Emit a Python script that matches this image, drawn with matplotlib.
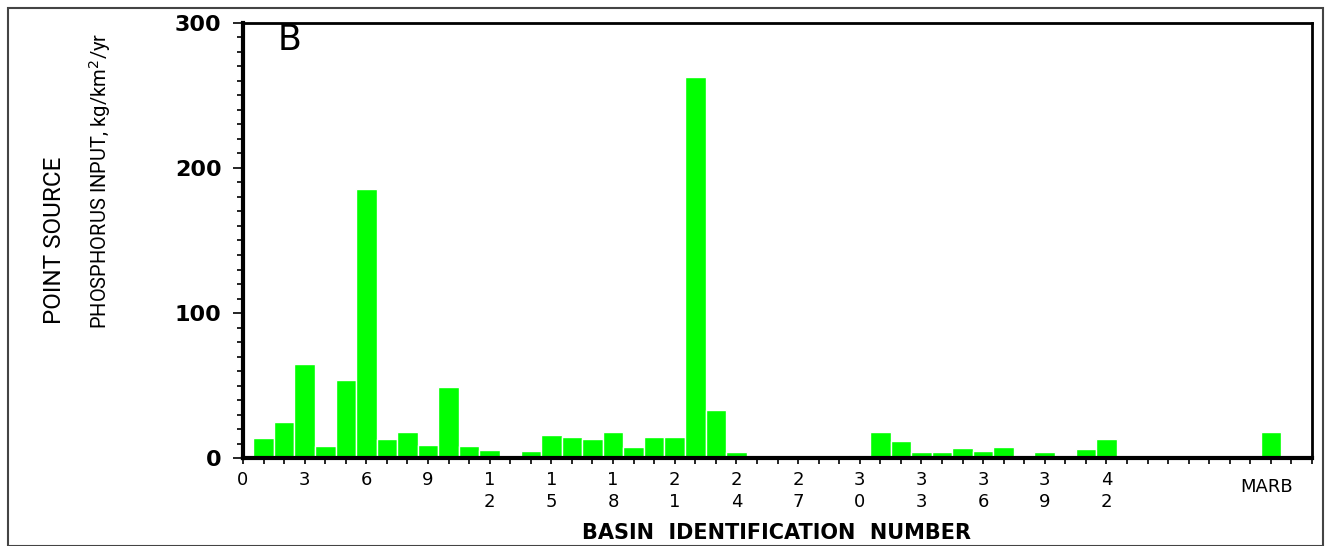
import matplotlib
matplotlib.use("Agg")
import matplotlib.pyplot as plt
from matplotlib.patches import Rectangle
from matplotlib.ticker import MultipleLocator, FixedLocator

# Data
basins = list(range(1, 43))
values = [14.1, 24.5, 65.0, 8.6, 54.1, 185.5, 12.8, 17.6, 9.3, 49.3,
          8.6, 5.2, 1.0, 4.5, 16.2, 14.8, 12.8, 17.6, 7.9, 14.8,
          14.8, 262.5, 32.8, 3.8, 0.0, 0.0, 1.0, 1.0, 1.0, 2.4,
          18.0, 11.4, 3.8, 3.8, 6.6, 4.5, 7.9, 1.7, 3.8, 1.7,
          5.9, 12.8]
marb_value = 18.0
marb_pos = 50
xtick_pos = list(range(0, 43, 3))
xtick_labels = ["\n".join(str(v)) for v in xtick_pos]
ytick_pos = [0, 100, 200, 300]

plt.rcParams['font.family'] = ['DejaVu Sans']

fig = plt.figure(figsize=(13.3, 5.46), dpi=100)
ax = fig.add_axes([243/1330, (546-458)/546, 1069/1330, 435/546])

green = '#00ff00'
ax.bar(basins, values, width=1.0, color=green, edgecolor='white', linewidth=1.0)
ax.bar([marb_pos], [marb_value], width=1.0, color=green, edgecolor='white', linewidth=1.0)

ax.set_xlim(0, 52)
ax.set_ylim(0, 300)

ax.xaxis.set_major_locator(FixedLocator(xtick_pos))
ax.xaxis.set_minor_locator(MultipleLocator(1))
ax.set_xticklabels(xtick_labels, fontsize=13, va='top', linespacing=1.3)
ax.yaxis.set_major_locator(FixedLocator(ytick_pos))
ax.yaxis.set_minor_locator(MultipleLocator(10))
ax.set_yticklabels([str(v) for v in ytick_pos], fontsize=16, fontweight='bold')

ax.tick_params(axis='x', which='both', direction='out', length=4.5, width=1.2, pad=5)
ax.tick_params(axis='y', which='major', direction='out', length=7.5, width=1.2, pad=8)
ax.tick_params(axis='y', which='minor', direction='out', length=4, width=1.2)

for s in ['left', 'bottom']:
    ax.spines[s].set_linewidth(3)
for s in ['top', 'right']:
    ax.spines[s].set_linewidth(2)

ax.text(marb_pos - 0.2, -20, "MARB", ha='center', va='center', fontsize=13)
ax.text(0.032, 0.96, "B", transform=ax.transAxes, ha='left', va='center', fontsize=25)

fig.text(777/1330, 1 - 533/546, "BASIN  IDENTIFICATION  NUMBER", ha='center', va='center',
         fontsize=15, fontweight='bold')

fig.text(55/1330, 1 - 240/546, "POINT SOURCE", rotation=90, ha='center', va='center',
         fontsize=17.5, family=['Roboto', 'DejaVu Sans'])
fig.text(100/1330, 1 - 181/546, "PHOSPHORUS INPUT, kg/km$^2$/yr", rotation=90, ha='center', va='center',
         fontsize=14.5, family=['Roboto', 'DejaVu Sans'])

fig.patches.append(Rectangle((8/1330, 0), 1315/1330, 1 - 8/546, transform=fig.transFigure,
                             fill=False, edgecolor='#444444', linewidth=1.5))

fig.savefig("out.png", dpi=100)
